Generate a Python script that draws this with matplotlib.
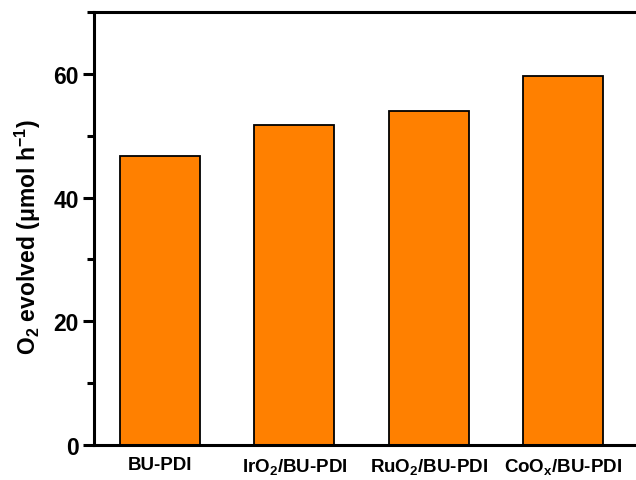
import matplotlib
matplotlib.use("Agg")
import matplotlib.pyplot as plt
from matplotlib.ticker import MultipleLocator

# 데이터
categories = ["BU-PDI", "IrO$_2$/BU-PDI", "RuO$_2$/BU-PDI", "CoO$_x$/BU-PDI"]
o2_evolved = [46.8, 51.8, 54.0, 59.7]

plt.rcParams['font.family'] = 'Liberation Sans'
plt.rcParams['font.weight'] = 'bold'
plt.rcParams['mathtext.fontset'] = 'custom'
plt.rcParams['mathtext.rm'] = 'Liberation Sans:bold'
plt.rcParams['mathtext.it'] = 'Liberation Sans:bold'
plt.rcParams['mathtext.bf'] = 'Liberation Sans:bold'
plt.rcParams['mathtext.default'] = 'rm'

fig = plt.figure(figsize=(6.36, 4.81), dpi=100)
# 오른쪽 축은 그림 밖으로 잘림
ax = fig.add_axes([94 / 636, 35 / 481, 550 / 636, 433 / 481])

x = range(len(categories))
ax.bar(x, o2_evolved, width=0.595, color='#FF8000', edgecolor='black', linewidth=1.3)

ax.set_xlim(-0.49, 3.6)
ax.set_ylim(0, 70)
ax.yaxis.set_major_locator(MultipleLocator(20))
ax.yaxis.set_minor_locator(MultipleLocator(10))

for s in ax.spines.values():
    s.set_linewidth(2.2)

ax.set_xticks(list(x))
ax.set_xticklabels(categories, fontsize=13.5, fontweight='bold')
ax.tick_params(axis='x', length=0, pad=8)
ax.tick_params(axis='y', which='major', direction='out', length=8, width=2.2,
               labelsize=16.5, pad=3)
ax.tick_params(axis='y', which='minor', direction='out', length=5, width=2.2)
for lab in ax.get_yticklabels():
    lab.set_fontweight('bold')

ax.set_ylabel("O$_2$ evolved (\u03bcmol h$^{-1}$)", fontsize=16.5, fontweight='bold')
ax.yaxis.set_label_coords(-0.093, 0.483)

plt.savefig("out.png", dpi=100)
